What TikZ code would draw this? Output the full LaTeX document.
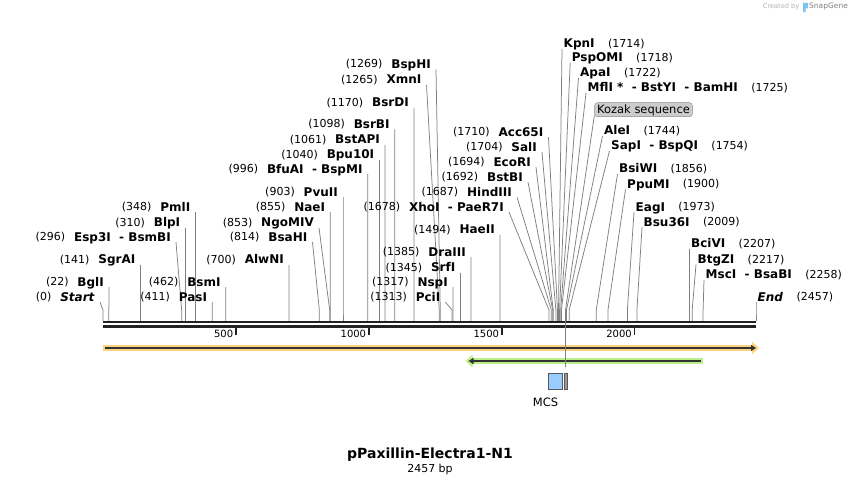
\documentclass[tikz,border=0pt]{standalone}
\usepackage{fontspec}
\setmainfont{DejaVu Sans}
\usetikzlibrary{arrows.meta}
\definecolor{cutgray}{RGB}{128,128,128}
\definecolor{axisdark}{RGB}{34,34,34}
\definecolor{orangeF}{RGB}{253,211,127}
\definecolor{greenF}{RGB}{185,240,135}
\definecolor{featdark}{RGB}{51,51,51}
\definecolor{mcsblue}{RGB}{153,204,255}
\definecolor{kozfill}{RGB}{204,204,204}
\definecolor{kozdraw}{RGB}{140,140,140}
\definecolor{logoblue}{RGB}{125,195,240}
\tikzset{
  nm/.style={font=\fontsize{12}{12}\selectfont\bfseries, inner sep=0pt, text height=8.75pt, text depth=0pt},
  num/.style={font=\fontsize{11}{11}\selectfont, inner sep=0pt, text height=8pt, text depth=0pt},
  cutline/.style={draw=cutgray, line width=0.75pt},
  axisline/.style={draw=axisdark, line width=2.4pt},
  tickline/.style={draw=axisdark, line width=1.8pt},
  ticklab/.style={font=\fontsize{10}{10}\selectfont, inner sep=0pt, text height=7.3pt, text depth=0pt, anchor=east},
  kozak/.style={draw=kozdraw, fill=kozfill, rounded corners=3pt, font=\fontsize{11.5}{11.5}\selectfont, inner xsep=2.5pt, inner ysep=0pt, minimum height=14pt, text height=8.4pt, text depth=0pt},
}
\newcommand\leftlab[6]{%
  \node[nm,anchor=east] (#1) at (#2,#3) {#5};
  \node[num,anchor=east] (#1n) at ([xshift=-8.5pt]#1.west) {(#4)};
  \coordinate (#1s) at (#6,321);
  \draw[cutline] ([shift={(5pt,-5.5pt)}]#1.east) -- (#6,310) -- (#1s);
}
\newcommand\rightlab[6]{%
  \node[nm,anchor=west] (#1) at (#2,#3) {#5};
  \node[num,anchor=west] (#1n) at ([xshift=13pt]#1.east) {(#4)};
  \coordinate (#1s) at (#6,321);
  \draw[cutline] ([shift={(-1.5pt,-5.5pt)}]#1.west) -- (#6,310) -- (#1s);
}
\begin{document}
\begin{tikzpicture}[x=1pt,y=-1pt]
\fill[white] (0,0) rectangle (860,484);
\useasboundingbox (0,0) rectangle (860,484);

% watermark
\node[font=\fontsize{6.6}{7}\selectfont, text=black!30, anchor=west, inner sep=0pt] (cb) at (762.7,6.7) {Created by};
\fill[logoblue] (803,3) -- (808,3) -- (808,8.5) -- (805.6,8.5) -- (805.6,12) -- (803,12) -- cycle;
\node[font=\fontsize{7.5}{8}\selectfont, text=black!50, anchor=west, inner sep=0pt] (sg) at (809,6.7) {SnapGene};

% left labels
\leftlab{lStart}{95}{296.7}{0}{\textit{Start}}{103}
\leftlab{lBglI}{104}{281.7}{22}{BglI}{108.85}
\leftlab{lSgrAI}{135.5}{259.3}{141}{SgrAI}{140.47}
\leftlab{lEsp}{171}{236.7}{296}{Esp3I~~-~BsmBI}{181.67}
\leftlab{lBlpI}{180.4}{222.3}{310}{BlpI}{185.39}
\leftlab{lPmlI}{190.5}{206.7}{348}{PmlI}{195.49}
\leftlab{lPasI}{207.2}{296.7}{411}{PasI}{212.23}
\leftlab{lBsmI}{220.8}{281.7}{462}{BsmI}{225.79}
\leftlab{lAlwNI}{284}{259.3}{700}{AlwNI}{289.04}
\leftlab{lBsaHI}{307.5}{236.7}{814}{BsaHI}{319.34}
\leftlab{lNgoMIV}{314}{222.3}{853}{NgoMIV}{329.70}
\leftlab{lNaeI}{325.2}{206.7}{855}{NaeI}{330.23}
\leftlab{lPvuII}{338}{192}{903}{PvuII}{343.0}
\leftlab{lBfuAI}{362.7}{168.7}{996}{BfuAI~~-~BspMI}{367.71}
\leftlab{lBpu}{374.4}{154.3}{1040}{Bpu10I}{379.40}
\leftlab{lBstAPI}{380}{139.3}{1061}{BstAPI}{384.98}
\leftlab{lBsrBI}{389.8}{124}{1098}{BsrBI}{394.82}
\leftlab{lBsrDI}{409}{102.3}{1170}{BsrDI}{413.95}
\leftlab{lXmnI}{421.5}{79.3}{1265}{XmnI}{439.20}
\leftlab{lBspHI}{431}{64}{1269}{BspHI}{440.26}
\leftlab{lPciI}{440.5}{296.7}{1313}{PciI}{451.96}
\leftlab{lNspI}{448}{281.7}{1317}{NspI}{453.02}
\leftlab{lSrfI}{455.5}{267.3}{1345}{SrfI}{460.46}
\leftlab{lDraIII}{466}{251.7}{1385}{DraIII}{471.09}
\leftlab{lHaeII}{495}{229.3}{1494}{HaeII}{500.06}
\leftlab{lXhoI}{504}{206.7}{1678}{XhoI~~-~PaeR7I}{548.96}
\leftlab{lHind}{512}{191.7}{1687}{HindIII}{551.36}
\leftlab{lBstBI}{523}{176.7}{1692}{BstBI}{552.69}
\leftlab{lEcoRI}{531}{161.7}{1694}{EcoRI}{553.22}
\leftlab{lSalI}{537}{146.7}{1704}{SalI}{555.87}
\leftlab{lAcc}{543.5}{131.7}{1710}{Acc65I}{557.47}

% right labels
\rightlab{rKpnI}{563.5}{43.3}{1714}{KpnI}{558.53}
\rightlab{rPsp}{571.7}{57.3}{1718}{PspOMI}{559.59}
\rightlab{rApaI}{580}{72.3}{1722}{ApaI}{560.66}
\rightlab{rMflI}{587.5}{87.3}{1725}{MflI~*~~-~BstYI~~-~BamHI}{561.46}
\rightlab{rAleI}{604}{130.5}{1744}{AleI}{566.51}
\rightlab{rSapI}{611}{145.5}{1754}{SapI~~-~BspQI}{569.16}
\rightlab{rBsiWI}{619}{168.5}{1856}{BsiWI}{596.27}
\rightlab{rPpuMI}{627}{184}{1900}{PpuMI}{607.97}
\rightlab{rEagI}{635.5}{206.7}{1973}{EagI}{627.37}
\rightlab{rBsu}{643.5}{221.7}{2009}{Bsu36I}{636.94}
\rightlab{rBciVI}{691}{243.3}{2207}{BciVI}{689.56}
\rightlab{rBtgZI}{697.5}{259}{2217}{BtgZI}{692.21}
\rightlab{rMscI}{705.5}{274.3}{2258}{MscI~~-~BsaBI}{703.11}
\rightlab{rEnd}{757.5}{296.7}{2457}{\textit{End}}{756}

% axis
\coordinate (ax0) at (103,322.2);
\coordinate (ax1) at (756,322.2);
\coordinate (bx0) at (103,326.4);
\coordinate (bx1) at (756,326.4);
\draw[axisline] (ax0) -- (ax1);
\draw[axisline] (bx0) -- (bx1);
\foreach \v/\xx in {500/235.9, 1000/368.8, 1500/501.7, 2000/634.5}{
  \coordinate (t\v a) at (\xx,327.5);
  \coordinate (t\v b) at (\xx,334.8);
  \draw[tickline] (t\v a) -- (t\v b);
  \node[ticklab] (tl\v) at (\xx-2.5,334) {\v};
}

% features
\coordinate (o0) at (103,348);
\coordinate (o1) at (759,348);
\coordinate (o2) at (105,348);
\coordinate (o3) at (756,348);
\draw[line width=6pt, orangeF, -{Triangle[length=7pt,width=12pt]}] (o0) -- (o1);
\draw[line width=2pt, featdark, -{Triangle[length=5pt,width=6pt]}] (o2) -- (o3);
\coordinate (g0) at (702.5,361);
\coordinate (g1) at (465.5,361);
\coordinate (g2) at (700.5,361);
\coordinate (g3) at (468.5,361);
\draw[line width=6pt, greenF, -{Triangle[length=7pt,width=12pt]}] (g0) -- (g1);
\draw[line width=2pt, featdark, -{Triangle[length=5pt,width=6pt]}] (g2) -- (g3);

% Kozak
\node[kozak] (koz) at (643.5,109.7) {Kozak sequence};
\coordinate (kozs) at (565.5,367);
\draw[cutline] ([shift={(0pt,1.5pt)}]koz.south west) -- (565.5,310) -- (kozs);

% MCS
\draw[draw=black!65, fill=mcsblue, line width=0.8pt] (548.3,373.3) rectangle (562.7,389.3);
\draw[draw=black!65, fill=black!40, line width=0.8pt] (564.2,373.3) rectangle (567.6,389.3);
\node[font=\fontsize{11.5}{11.5}\selectfont, inner sep=0pt, text height=8.4pt, text depth=0pt] (mcs) at (545.5,402) {MCS};

% title
\node[font=\fontsize{14}{14}\selectfont\bfseries, inner sep=0pt, text height=10.2pt, text depth=0pt] (title) at (430,453.5) {pPaxillin-Electra1-N1};
\node[font=\fontsize{11}{11}\selectfont, inner sep=0pt, text height=8pt, text depth=0pt] (bp) at (430,468) {2457 bp};
\end{tikzpicture}
\end{document}
